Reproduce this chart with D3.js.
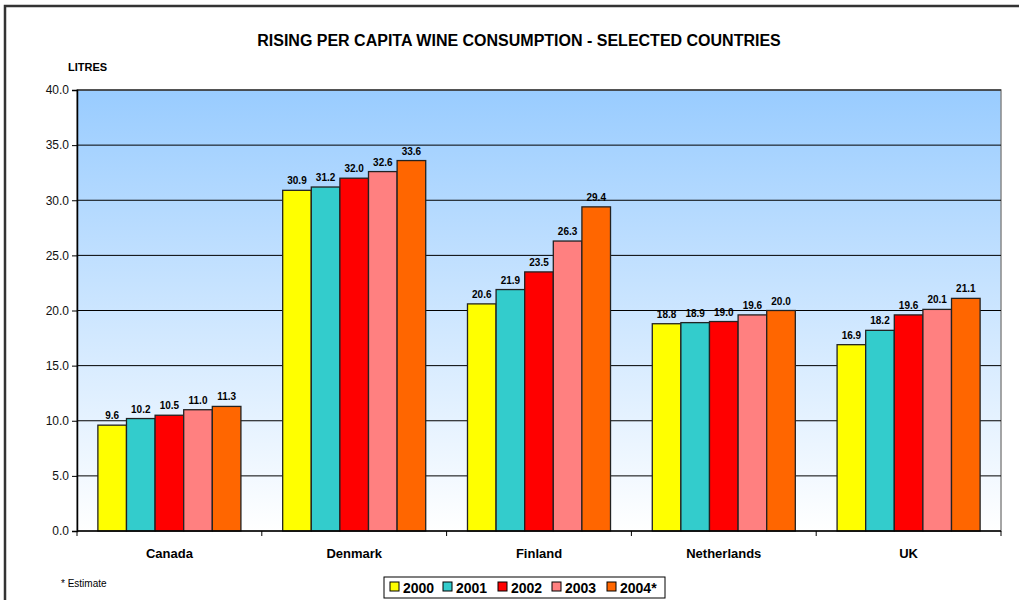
<!DOCTYPE html>
<html>
<head>
<meta charset="utf-8">
<script src="https://cdn.jsdelivr.net/npm/d3@7"></script>
<style>
  body { margin: 0; background: #fff; }
  svg { font-family: Arial, "Liberation Sans", sans-serif; display: block; }
</style>
</head>
<body>
<svg width="1019" height="600"></svg>
<script>
var countries = ["Canada", "Denmark", "Finland", "Netherlands", "UK"];
var years = ["2000", "2001", "2002", "2003", "2004*"];
var v2000 = [9.6, 30.9, 20.6, 18.8, 16.9];
var v2001 = [10.2, 31.2, 21.9, 18.9, 18.2];
var v2002 = [10.5, 32.0, 23.5, 19.0, 19.6];
var v2003 = [11.0, 32.6, 26.3, 19.6, 20.1];
var v2004 = [11.3, 33.6, 29.4, 20.0, 21.1];
var yTicks = [0, 5, 10, 15, 20, 25, 30, 35, 40];
var colors = ["#ffff00", "#33cccc", "#ff0000", "#ff8080", "#ff6600"];

var series = [v2000, v2001, v2002, v2003, v2004];

var svg = d3.select("svg");
var plotL = 77, plotT = 90, plotR = 1001, plotB = 531;

// outer frame
svg.append("rect")
  .attr("x", 5).attr("y", 6)
  .attr("width", 1030).attr("height", 620)
  .attr("fill", "none").attr("stroke", "#333").attr("stroke-width", 2.5);

var defs = svg.append("defs");
var grad = defs.append("linearGradient")
  .attr("id", "bg").attr("x1", 0).attr("y1", 0).attr("x2", 0).attr("y2", 1);
grad.append("stop").attr("offset", "0%").attr("stop-color", "#99ccff");
grad.append("stop").attr("offset", "100%").attr("stop-color", "#ffffff");

var x = d3.scaleBand().domain(countries).range([plotL, plotR]);
var xs = d3.scaleBand().domain(years).range([0, x.bandwidth()]).paddingOuter(0.73);
var y = d3.scaleLinear().domain([0, 40]).range([plotB, plotT]);

svg.append("rect")
  .attr("x", plotL).attr("y", plotT)
  .attr("width", plotR - plotL).attr("height", plotB - plotT)
  .attr("fill", "url(#bg)").attr("stroke", "#888").attr("stroke-width", 1.5);

// gridlines
svg.append("g").selectAll("line")
  .data(yTicks.filter(function(d) { return d > 0; }))
  .enter().append("line")
  .attr("x1", plotL).attr("x2", plotR)
  .attr("y1", function(d) { return y(d); }).attr("y2", function(d) { return y(d); })
  .attr("stroke", "#000").attr("stroke-width", 1);

// bars
var groups = svg.append("g").selectAll("g")
  .data(countries)
  .enter().append("g")
  .attr("transform", function(d) { return "translate(" + x(d) + ",0)"; });

function rows(c, i) {
  return series.map(function(s, j) { return { year: years[j], v: s[i], k: j }; });
}

groups.selectAll("rect")
  .data(rows)
  .enter().append("rect")
  .attr("x", function(d) { return xs(d.year); })
  .attr("y", function(d) { return y(d.v); })
  .attr("width", xs.bandwidth())
  .attr("height", function(d) { return plotB - y(d.v); })
  .attr("fill", function(d) { return colors[d.k]; })
  .attr("stroke", "#222").attr("stroke-width", 1.3);

groups.selectAll("text")
  .data(rows)
  .enter().append("text")
  .attr("x", function(d) { return xs(d.year) + xs.bandwidth() / 2; })
  .attr("y", function(d) { return y(d.v) - 6; })
  .attr("text-anchor", "middle")
  .attr("font-size", 10).attr("font-weight", "bold")
  .text(function(d) { return d.v.toFixed(1); });

// y axis
var yAxis = d3.axisLeft(y).tickValues(yTicks).tickSize(5).tickFormat(d3.format(".1f"));
var ya = svg.append("g").attr("transform", "translate(" + plotL + ",0)").call(yAxis);
ya.select(".domain").attr("stroke", "#000").attr("stroke-width", 1.5);
ya.selectAll(".tick line").attr("stroke", "#000");
ya.selectAll("text").attr("font-size", 12).attr("fill", "#111")
  .attr("font-family", "Arial, 'Liberation Sans', sans-serif").attr("x", -8);

// x axis
var xa = svg.append("g").attr("transform", "translate(0," + plotB + ")");
xa.append("line").attr("x1", plotL).attr("x2", plotR).attr("stroke", "#000").attr("stroke-width", 1.5);
xa.selectAll("line.tk")
  .data(countries.map(function(c) { return x(c); }).concat([plotR]))
  .enter().append("line").attr("class", "tk")
  .attr("x1", function(d) { return d; }).attr("x2", function(d) { return d; })
  .attr("y1", 0).attr("y2", 5).attr("stroke", "#000");
xa.selectAll("text")
  .data(countries)
  .enter().append("text")
  .attr("x", function(d) { return x(d) + x.bandwidth() / 2; })
  .attr("y", 27)
  .attr("text-anchor", "middle")
  .attr("font-size", 13).attr("font-weight", "bold")
  .text(function(d) { return d; });

// titles
svg.append("text").attr("x", 519).attr("y", 46).attr("text-anchor", "middle")
  .attr("font-size", 16).attr("font-weight", "bold")
  .text("RISING PER CAPITA WINE CONSUMPTION - SELECTED COUNTRIES");
svg.append("text").attr("x", 68).attr("y", 71)
  .attr("font-size", 11).attr("font-weight", "bold").text("LITRES");
svg.append("text").attr("x", 61).attr("y", 587)
  .attr("font-size", 10).text("* Estimate");

// legend
var lg = svg.append("g");
lg.append("rect").attr("x", 384).attr("y", 577).attr("width", 281).attr("height", 21)
  .attr("fill", "#fff").attr("stroke", "#000").attr("stroke-width", 1);
var lx = [390, 443, 498, 552, 607];
var items = lg.selectAll("g.it").data(years).enter().append("g").attr("class", "it")
  .attr("transform", function(d, i) { return "translate(" + lx[i] + ",0)"; });
items.append("rect").attr("x", 0).attr("y", 582).attr("width", 9).attr("height", 9)
  .attr("fill", function(d, i) { return colors[i]; }).attr("stroke", "#000");
items.append("text").attr("x", 13).attr("y", 593)
  .attr("font-size", 14).attr("font-weight", "bold")
  .text(function(d) { return d; });
</script>
</body>
</html>
